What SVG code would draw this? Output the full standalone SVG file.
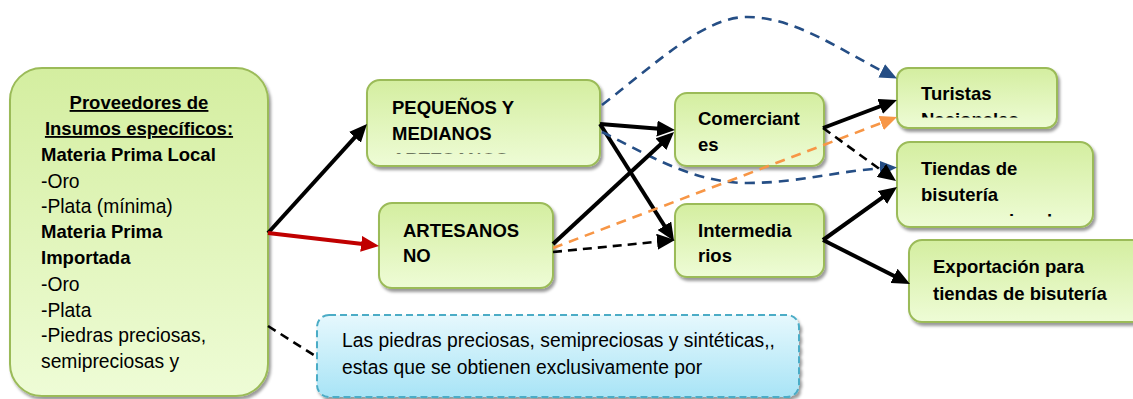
<svg xmlns="http://www.w3.org/2000/svg" width="1133" height="399" viewBox="0 0 1133 399">
<style>
.box{stroke:#9bbb59;stroke-width:2;fill:url(#gGreen);filter:url(#sh)}
.note{stroke:#4bacc6;stroke-width:2;stroke-dasharray:7,4;fill:url(#gBlue);filter:url(#sh)}
.b{font-family:"Liberation Sans",Arial,sans-serif;font-weight:bold;font-size:18.5px;fill:#000}
.r{font-family:"Liberation Sans",Arial,sans-serif;font-size:19.3px;fill:#000}
.blk{stroke:#000;stroke-width:4;fill:none}
.red{stroke:#c00000;stroke-width:4;fill:none}
.dblk{stroke:#000;stroke-width:2.6;fill:none;stroke-dasharray:9,6}
.dblu{stroke:#254e85;stroke-width:2.6;fill:none;stroke-dasharray:10,7}
.dorg{stroke:#f79646;stroke-width:2.6;fill:none;stroke-dasharray:10,7}
</style>
<defs>
<linearGradient id="gGreen" x1="0" y1="0" x2="0" y2="1">
<stop offset="0" stop-color="#d4eea0"/>
<stop offset="1" stop-color="#eefcd6"/>
</linearGradient>
<linearGradient id="gBlue" x1="0" y1="0" x2="0" y2="1">
<stop offset="0" stop-color="#e6f8fd"/>
<stop offset="1" stop-color="#a8e4f6"/>
</linearGradient>
<filter id="sh" x="-5%" y="-5%" width="115%" height="120%">
<feDropShadow dx="2" dy="3" stdDeviation="1.5" flood-color="#000" flood-opacity="0.4"/>
</filter>
<marker id="aBlk" markerUnits="userSpaceOnUse" markerWidth="18" markerHeight="16" refX="8" refY="8" orient="auto"><path d="M0,0 L18,8 L0,16 z" fill="#000"/></marker>
<marker id="aRed" markerUnits="userSpaceOnUse" markerWidth="18" markerHeight="16" refX="8" refY="8" orient="auto"><path d="M0,0 L18,8 L0,16 z" fill="#c00000"/></marker>
<marker id="aBlu" markerUnits="userSpaceOnUse" markerWidth="17" markerHeight="15" refX="7" refY="7.5" orient="auto"><path d="M0,0 L17,7.5 L0,15 z" fill="#254e85"/></marker>
<marker id="aOrg" markerUnits="userSpaceOnUse" markerWidth="17" markerHeight="15" refX="7" refY="7.5" orient="auto"><path d="M0,0 L17,7.5 L0,15 z" fill="#f79646"/></marker>
<clipPath id="cPeq"><rect x="367" y="80" width="233" height="73.5"/></clipPath>
<clipPath id="cTur"><rect x="897" y="68" width="160" height="49.5"/></clipPath>
<clipPath id="cTie"><rect x="897" y="142" width="196" height="74.5"/></clipPath>
</defs>

<g id="proveedores">
<rect class="box" x="10" y="68" width="258" height="328" rx="32"/>
<text class="b" x="139" y="109" text-anchor="middle" text-decoration="underline">Proveedores de</text>
<text class="b" x="139" y="135" text-anchor="middle" text-decoration="underline">Insumos específicos:</text>
<text class="b" x="41" y="161">Materia Prima Local</text>
<text class="r" x="41" y="188">-Oro</text>
<text class="r" x="41" y="213">-Plata (mínima)</text>
<text class="b" x="41" y="238">Materia Prima</text>
<text class="b" x="41" y="264">Importada</text>
<text class="r" x="41" y="291">-Oro</text>
<text class="r" x="41" y="317">-Plata</text>
<text class="r" x="41" y="342">-Piedras preciosas,</text>
<text class="r" x="41" y="368">semipreciosas y</text>
</g>

<g id="pequenos">
<rect class="box" x="367" y="80" width="233" height="86" rx="13"/>
<text class="b" x="392" y="114">PEQUEÑOS Y</text>
<text class="b" x="392" y="140">MEDIANOS</text>
<text class="b" x="392" y="166" clip-path="url(#cPeq)">ARTESANOS</text>
</g>

<g id="artesanos">
<rect class="box" x="379" y="203" width="174" height="85" rx="13"/>
<text class="b" x="403" y="237">ARTESANOS</text>
<text class="b" x="403" y="262">NO</text>
</g>

<g id="comerciantes">
<rect class="box" x="675" y="93" width="149" height="73" rx="12"/>
<text class="b" x="698" y="125">Comerciant</text>
<text class="b" x="698" y="151">es</text>
</g>

<g id="intermediarios">
<rect class="box" x="675" y="204" width="149" height="73" rx="12"/>
<text class="b" x="698" y="237">Intermedia</text>
<text class="b" x="698" y="262">rios</text>
</g>

<g id="turistas">
<rect class="box" x="897" y="68" width="160" height="60" rx="11"/>
<text class="b" x="921" y="100">Turistas</text>
<text class="b" x="921" y="126" clip-path="url(#cTur)">Nacionales</text>
</g>

<g id="tiendas">
<rect class="box" x="897" y="142" width="196" height="85" rx="13"/>
<text class="b" x="921" y="175">Tiendas de</text>
<text class="b" x="921" y="201">bisutería</text>
<text class="b" x="977" y="227" clip-path="url(#cTie)">nacionales</text>
</g>

<g id="exportacion">
<rect class="box" x="909" y="240" width="240" height="82" rx="13"/>
<text class="b" x="933" y="273">Exportación para</text>
<text class="b" x="933" y="300">tiendas de bisutería</text>
</g>

<g id="nota">
<rect class="note" x="317" y="315" width="482" height="82" rx="12"/>
<text class="r" x="342" y="347">Las piedras preciosas, semipreciosas y sintéticas,,</text>
<text class="r" x="342" y="374">estas que se obtienen exclusivamente por</text>
</g>

<g id="connectors">
<line class="blk" x1="268" y1="233" x2="360.3" y2="131.4" marker-end="url(#aBlk)"/>
<line class="red" x1="268" y1="233" x2="369.1" y2="244.8" marker-end="url(#aRed)"/>
<line class="dblk" x1="268" y1="326" x2="317" y2="357"/>
<path class="dblu" d="M602,105 C660,60 705,17 747,17 C795,17 840,50 888,74" marker-end="url(#aBlu)"/>
<line class="blk" x1="600" y1="124" x2="665" y2="129.2" marker-end="url(#aBlk)"/>
<line class="blk" x1="600" y1="124" x2="668.7" y2="232.5" marker-end="url(#aBlk)"/>
<path class="dblu" d="M602,132 C640,150 690,183 747,183 C800,183 840,170 887,168" marker-end="url(#aBlu)"/>
<line class="blk" x1="553" y1="244" x2="666.7" y2="138.8" marker-end="url(#aBlk)"/>
<line class="dorg" x1="553" y1="248" x2="887.7" y2="120.6" marker-end="url(#aOrg)"/>
<line class="dblk" x1="553" y1="252" x2="665" y2="241" marker-end="url(#aBlk)"/>
<line class="blk" x1="823" y1="128" x2="887.6" y2="103.5" marker-end="url(#aBlk)"/>
<line class="dblk" x1="823" y1="128" x2="887.9" y2="175.1" marker-end="url(#aBlk)"/>
<line class="blk" x1="823" y1="240" x2="888.9" y2="192.8" marker-end="url(#aBlk)"/>
<line class="blk" x1="823" y1="240" x2="901.1" y2="279.5" marker-end="url(#aBlk)"/>
</g>
</svg>
